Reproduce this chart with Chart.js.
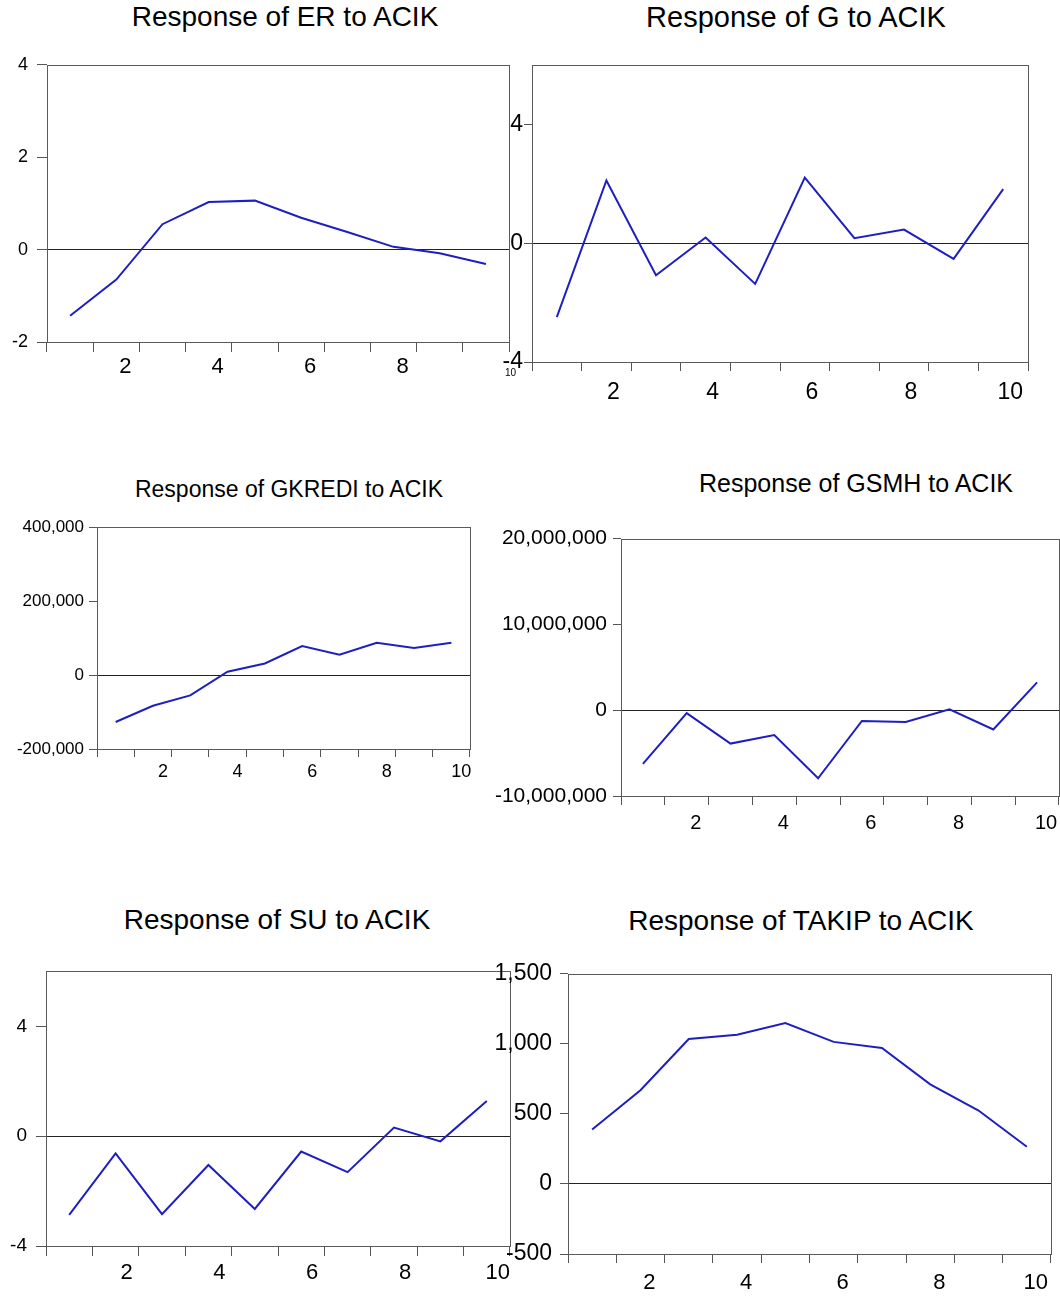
<!DOCTYPE html>
<html>
<head>
<meta charset="utf-8">
<script src="https://cdn.jsdelivr.net/npm/chart.js@4.4.1/dist/chart.umd.min.js"></script>
<style>
  body { margin: 0; background: #fff; width: 1060px; height: 1302px; position: relative; overflow: hidden;
         font-family: "Liberation Sans", Arial, sans-serif; }
  canvas { position: absolute; }
  .title { position: absolute; white-space: nowrap; color: #000; line-height: 1; transform: translateX(-50%); }
  .tiny { position: absolute; font-size: 10px; color: #000; line-height: 1; }
</style>
</head>
<body>
<script>
// periods of the impulse response
const periods = ['1', '2', '3', '4', '5', '6', '7', '8', '9', '10'];

// responses to ACIK
const erValues = [-1.43, -0.65, 0.55, 1.03, 1.06, 0.69, 0.38, 0.06, -0.08, -0.31];
const gValues = [-2.49, 2.11, -1.08, 0.19, -1.37, 2.21, 0.17, 0.46, -0.53, 1.82];
const gkrediValues = [-127000, -83000, -55000, 9000, 31000, 78000, 55000, 87000, 73000, 87000];
const gsmhValues = [-6260000, -340000, -3890000, -2900000, -7940000, -1260000, -1370000, 110000, -2250000, 3240000];
const suValues = [-2.87, -0.63, -2.84, -1.05, -2.65, -0.56, -1.31, 0.31, -0.19, 1.28];
const takipValues = [389, 669, 1035, 1065, 1149, 1014, 970, 711, 524, 266];

// y axis ticks and ranges
const erTicks = [-2, 0, 2, 4];
const gTicks = [-4, 0, 4];
const gkrediTicks = [-200000, 0, 200000, 400000];
const gsmhTicks = [-10000000, 0, 10000000, 20000000];
const suTicks = [-4, 0, 4];
const takipTicks = [-500, 0, 500, 1000, 1500];

const erRange = [-2, 4];
const gRange = [-4, 6];
const gkrediRange = [-200000, 400000];
const gsmhRange = [-10000000, 20000000];
const suRange = [-4, 6];
const takipRange = [-500, 1500];

// x labels that are printed
const evenLabels = ['2', '4', '6', '8', '10'];
const erLabels = ['2', '4', '6', '8'];

// frame around plot area (EViews style box)
const frame = {
  id: 'frame',
  afterDatasetsDraw(chart) {
    const { ctx, chartArea: a } = chart;
    ctx.save();
    ctx.strokeStyle = '#5a5a5a';
    ctx.lineWidth = 1;
    ctx.strokeRect(Math.round(a.left) + 0.5, Math.round(a.top) + 0.5,
                   Math.round(a.right - a.left), Math.round(a.bottom - a.top));
    ctx.restore();
  }
};

const panels = [
  { title: 'Response of ER to ACIK', values: erValues, ticks: erTicks, range: erRange, shown: erLabels,
    box: { l: 47, t: 61, r: 509, b: 342 }, yW: 47, xH: 45, padR: 8,
    yFont: 18, yTick: 10, yPad: 9, xFont: 22, xTick: 10, xPad: 2, labelOffset: 9,
    titleFont: 28, titleX: 285, titleY: 17 },
  { title: 'Response of G to ACIK', values: gValues, ticks: gTicks, range: gRange, shown: evenLabels,
    box: { l: 532, t: 65, r: 1028, b: 362 }, yW: 40, xH: 45, padR: 8,
    yFont: 23, yTick: 8, yPad: 1, xFont: 23, xTick: 9, xPad: 8, labelOffset: 7,
    titleFont: 29, titleX: 796, titleY: 17 },
  { title: 'Response of GKREDI to ACIK', values: gkrediValues, ticks: gkrediTicks, range: gkrediRange, shown: evenLabels,
    box: { l: 97, t: 527, r: 470, b: 749 }, yW: 97, xH: 40, padR: 10,
    yFont: 17, yTick: 8, yPad: 5, xFont: 18, xTick: 8, xPad: 4, labelOffset: 10,
    titleFont: 23, titleX: 289, titleY: 489 },
  { title: 'Response of GSMH to ACIK', values: gsmhValues, ticks: gsmhTicks, range: gsmhRange, shown: evenLabels,
    box: { l: 621, t: 536, r: 1059, b: 796 }, yW: 130, xH: 45, padR: 1,
    yFont: 21, yTick: 8, yPad: 6, xFont: 20, xTick: 9, xPad: 6, labelOffset: 9,
    titleFont: 25, titleX: 856, titleY: 483 },
  { title: 'Response of SU to ACIK', values: suValues, ticks: suTicks, range: suRange, shown: evenLabels,
    box: { l: 46, t: 967, r: 510, b: 1246 }, yW: 46, xH: 48, padR: 8,
    yFont: 19, yTick: 10, yPad: 9, xFont: 22, xTick: 10, xPad: 4, labelOffset: 11,
    titleFont: 28, titleX: 277, titleY: 920 },
  { title: 'Response of TAKIP to ACIK', values: takipValues, ticks: takipTicks, range: takipRange, shown: evenLabels,
    box: { l: 568, t: 968, r: 1051, b: 1254 }, yW: 88, xH: 47, padR: 9,
    yFont: 23, yTick: 8, yPad: 8, xFont: 22, xTick: 9, xPad: 7, labelOffset: 9,
    titleFont: 28, titleX: 801, titleY: 921 }
];

const padT = 16;

panels.forEach(p => {
  const plotW = p.box.r - p.box.l;
  const plotH = p.box.b - p.box.t;

  const title = document.createElement('div');
  title.className = 'title';
  title.textContent = p.title;
  title.style.fontSize = p.titleFont + 'px';
  title.style.left = p.titleX + 'px';
  title.style.top = Math.round(p.titleY - p.titleFont * 0.49) + 'px';
  document.body.appendChild(title);

  const canvas = document.createElement('canvas');
  const w = p.yW + plotW + p.padR;
  const h = padT + plotH + p.xH;
  canvas.width = w;
  canvas.height = h;
  canvas.style.width = w + 'px';
  canvas.style.height = h + 'px';
  canvas.style.left = (p.box.l - p.yW) + 'px';
  canvas.style.top = (p.box.t - padT) + 'px';
  document.body.appendChild(canvas);

  new Chart(canvas.getContext('2d'), {
    type: 'line',
    data: {
      labels: periods,
      datasets: [{
        data: p.values,
        borderColor: '#1f1fc0',
        borderWidth: 2,
        pointRadius: 0,
        tension: 0,
        fill: false
      }]
    },
    options: {
      responsive: false,
      animation: false,
      devicePixelRatio: 1,
      layout: { padding: { top: padT, right: p.padR, left: 0, bottom: 0 } },
      plugins: { legend: { display: false }, tooltip: { enabled: false } },
      scales: {
        x: {
          type: 'category',
          offset: true,
          border: { display: false },
          grid: { display: true, offset: true, drawOnChartArea: false, tickLength: p.xTick, tickColor: '#555' },
          ticks: {
            autoSkip: false, maxRotation: 0, minRotation: 0,
            padding: p.xPad, labelOffset: p.labelOffset, color: '#000',
            font: { family: '"Liberation Sans", Arial, sans-serif', size: p.xFont },
            callback: function(value) {
              const label = this.getLabelForValue(value);
              return p.shown.includes(label) ? label : '';
            }
          },
          afterFit: s => { s.height = p.xH; }
        },
        y: {
          min: p.range[0],
          max: p.range[1],
          border: { display: false },
          grid: {
            color: c => (c.tick && c.tick.value === 0) ? '#222' : 'rgba(0,0,0,0)',
            tickColor: '#555',
            tickLength: p.yTick
          },
          ticks: {
            padding: p.yPad, color: '#000',
            font: { family: '"Liberation Sans", Arial, sans-serif', size: p.yFont },
            callback: v => Number(v).toLocaleString('en-US')
          },
          afterBuildTicks: s => { s.ticks = p.ticks.map(v => ({ value: v })); },
          afterFit: s => { s.width = p.yW; }
        }
      }
    },
    plugins: [frame]
  });
});

// stray small label under the first panel
const tiny = document.createElement('div');
tiny.className = 'tiny';
tiny.textContent = '10';
tiny.style.left = '505px';
tiny.style.top = '368px';
document.body.appendChild(tiny);
</script>
</body>
</html>
